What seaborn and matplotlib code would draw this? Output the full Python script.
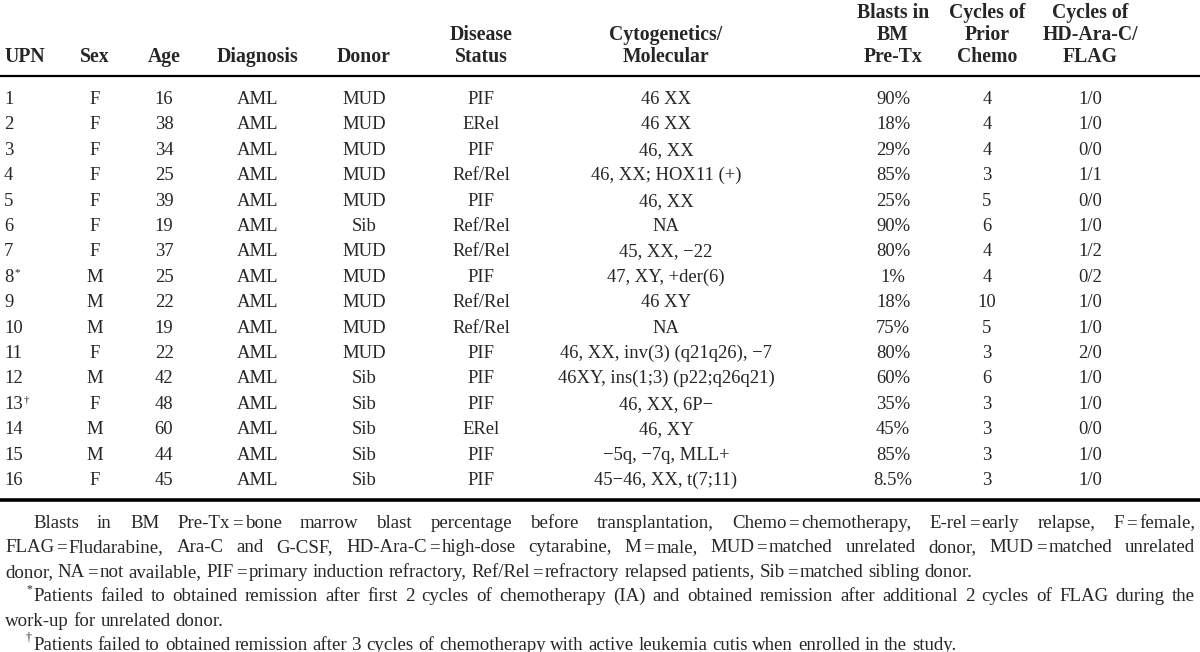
import matplotlib
matplotlib.use("Agg")
import matplotlib.pyplot as plt
import seaborn as sns

# table content
upn = ["1", "2", "3", "4", "5", "6", "7", "8", "9", "10", "11", "12", "13", "14", "15", "16"]
upn_mark = {"8": "*", "13": "\u2020"}
sex = ["F", "F", "F", "F", "F", "F", "F", "M", "M", "M", "F", "M", "F", "M", "M", "F"]
age = [16, 38, 34, 25, 39, 19, 37, 25, 22, 19, 22, 42, 48, 60, 44, 45]
diagnosis = ["AML"] * 16
donor = ["MUD", "MUD", "MUD", "MUD", "MUD", "Sib", "MUD", "MUD", "MUD", "MUD",
         "MUD", "Sib", "Sib", "Sib", "Sib", "Sib"]
status = ["PIF", "ERel", "PIF", "Ref/Rel", "PIF", "Ref/Rel", "Ref/Rel", "PIF", "Ref/Rel",
          "Ref/Rel", "PIF", "PIF", "PIF", "ERel", "PIF", "PIF"]
cytogenetics = ["46 XX", "46 XX", "46, XX", "46, XX; HOX11 (+)", "46, XX", "NA",
                "45, XX, \u221222", "47, XY, +der(6)", "46 XY", "NA",
                "46, XX, inv(3) (q21q26), \u22127", "46XY, ins(1;3) (p22;q26q21)",
                "46, XX, 6P\u2212", "46, XY", "\u22125q, \u22127q, MLL+",
                "45\u221246, XX, t(7;11)"]
blasts = ["90%", "18%", "29%", "85%", "25%", "90%", "80%", "1%", "18%", "75%",
          "80%", "60%", "35%", "45%", "85%", "8.5%"]
prior_chemo = [4, 4, 4, 3, 5, 6, 4, 4, 10, 5, 3, 6, 3, 3, 3, 3]
hd_flag = ["1/0", "1/0", "0/0", "1/1", "0/0", "1/0", "1/2", "0/2", "1/0", "1/0",
           "2/0", "1/0", "1/0", "0/0", "1/0", "1/0"]

headers = [["UPN"], ["Sex"], ["Age"], ["Diagnosis"], ["Donor"], ["Disease", "Status"],
           ["Cytogenetics/", "Molecular"], ["Blasts in", "BM", "Pre-Tx"],
           ["Cycles of", "Prior", "Chemo"], ["Cycles of", "HD-Ara-C/", "FLAG"]]

notes = [
    ("Blasts in BM Pre-Tx=bone marrow blast percentage before transplantation, "
     "Chemo=chemotherapy, E-rel=early relapse, F=female, "
     "FLAG=Fludarabine, Ara-C and G-CSF, HD-Ara-C=high-dose cytarabine, "
     "M=male, MUD=matched unrelated donor, MUD=matched unrelated "
     "donor, NA=not available, PIF=primary induction refractory, "
     "Ref/Rel=refractory relapsed patients, Sib=matched sibling donor."),
    ("Patients failed to obtained remission after first 2 cycles of chemotherapy (IA) and "
     "obtained remission after additional 2 cycles of FLAG during the work-up for unrelated donor."),
    ("Patients failed to obtained remission after 3 cycles of chemotherapy with active "
     "leukemia cutis when enrolled in the study."),
]
note_marks = ["", "*", "\u2020"]
# word counts where each justified line of a note ends
note_breaks = [[13, 25], [23], []]

sns.set_theme(style="white")
plt.rcParams["font.family"] = ["Liberation Serif", "DejaVu Serif"]

fig = plt.figure(figsize=(12, 6.52), dpi=100)
ax = fig.add_axes([0, 0, 1, 1])
ax.set_xlim(0, 1200)
ax.set_ylim(652, 0)
ax.axis("off")

col_x = [4, 95, 164, 258, 364, 481, 666, 893, 987, 1090]
col_ha = ["left"] + ["center"] * 9
fs = 13.4
hfs = 14.2
row_y0, row_dy = 104, 25.4
head_y = [18, 40, 62]

for j, lines in enumerate(headers):
    for k, line in enumerate(lines):
        ax.text(col_x[j], head_y[3 - len(lines) + k], line, ha=col_ha[j],
                va="baseline", fontsize=hfs, fontweight="bold")

ax.plot([0, 1200], [76, 76], color="black", lw=1.6, solid_capstyle="butt")

columns = [upn, sex, age, diagnosis, donor, status, cytogenetics, blasts, prior_chemo, hd_flag]
fig.canvas.draw()
renderer = fig.canvas.get_renderer()
for i in range(len(upn)):
    y = round(row_y0 + i * row_dy)
    for j, col in enumerate(columns):
        t = ax.text(col_x[j], y, str(col[i]), ha=col_ha[j], va="baseline", fontsize=fs)
        if j == 0 and upn[i] in upn_mark:
            bb = t.get_window_extent(renderer)
            ax.text(col_x[j] + bb.width + 1, y - 7, upn_mark[upn[i]], ha="left",
                    va="baseline", fontsize=8)

ax.plot([0, 1200], [500, 500], color="black", lw=2.6, solid_capstyle="butt")

# justified footnotes
nfs = 13.6
left, right, indent = 5, 1195, 28
line_y, line_dy = 528, 24.4
eq_pad = 2


def piece_width(s, size):
    t = ax.text(0, 0, s, fontsize=size)
    w = t.get_window_extent(renderer).width
    t.remove()
    return w


def split_token(token):
    # "A=b" is drawn as "A", "=", "b" with a narrow gap each side
    if "=" not in token:
        return [token]
    a, b = token.split("=", 1)
    return [a, "=", b]


def token_width(token, size):
    parts = split_token(token)
    return sum(piece_width(p, size) for p in parts) + eq_pad * (len(parts) - 1)


def draw_token(x, y, token, size):
    for p in split_token(token):
        ax.text(x, y, p, ha="left", va="baseline", fontsize=size)
        x += piece_width(p, size) + eq_pad


li = 0
for n, text in enumerate(notes):
    words = text.split(" ")
    cuts = [0] + note_breaks[n] + [len(words)]
    for p in range(len(cuts) - 1):
        chunk = words[cuts[p]:cuts[p + 1]]
        x0 = left + (indent if p == 0 else 0)
        y = round(line_y + li * line_dy)
        last = p == len(cuts) - 2
        size = nfs
        while True:
            space_w = piece_width("a a", size) - piece_width("aa", size)
            widths = [token_width(w, size) for w in chunk]
            gap = (right - x0 - sum(widths)) / max(len(chunk) - 1, 1)
            if last or gap >= 0.6 * space_w:
                break
            size -= 0.2
        if last:
            gap = space_w
        if p == 0 and note_marks[n]:
            ax.text(x0 - 1, y - 9, note_marks[n], ha="right", va="baseline", fontsize=8.5)
        x = x0
        for w, wd in zip(chunk, widths):
            draw_token(x, y, w, size)
            x += wd + gap
        li += 1

fig.savefig("out.png", dpi=100, facecolor="white")
